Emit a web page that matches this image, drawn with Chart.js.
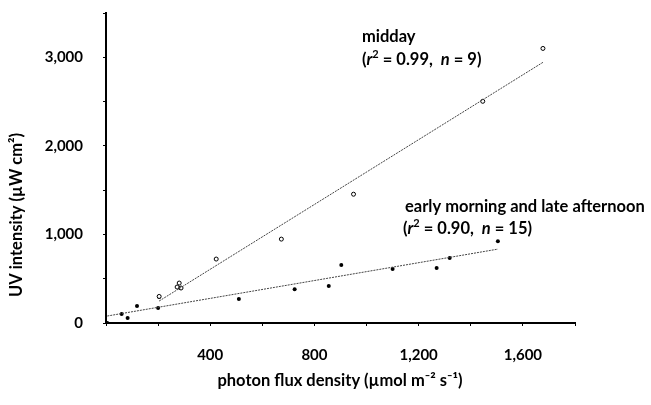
<!DOCTYPE html>
<html lang="en">
<head>
    <meta charset="UTF-8">
    <title>UV intensity vs photon flux density</title>
    <script src="https://cdn.jsdelivr.net/npm/chart.js"></script>
    <style>
        body { margin: 0; background: #fff; }
        #wrap { width: 651px; height: 405px; }
    </style>
</head>
<body>
    <div id="wrap"><canvas id="myChart"></canvas></div>
    <script>
        const ctx = document.getElementById('myChart').getContext('2d');

        // photon flux density (x) and UV intensity (y)
        const middayX = [204, 281, 273, 288, 423, 673, 950, 1446, 1677];
        const middayY = [300, 451, 406, 395, 722, 947, 1454, 2503, 3100];
        const earlyX = [5, 60, 83, 119, 200, 204, 285, 510, 724, 855, 903, 1100, 1269, 1319, 1504];
        const earlyY = [0, 101, 56, 192, 169, 293, 395, 271, 381, 419, 654, 609, 620, 733, 924];

        // fitted regression lines (end points)
        const middayFitX = [204, 1677];
        const middayFitY = [248, 2943];
        const earlyFitX = [5, 1504];
        const earlyFitY = [79, 834];

        const yTickLabels = [0, 1000, 2000, 3000];
        const xTickLabels = [400, 800, 1200, 1600];

        const pts = (xs, ys) => xs.map((x, i) => ({ x: x, y: ys[i] }));
        const FONT = 'Lato, "Open Sans", sans-serif';

        // annotation text with italic r / n and superscript 2
        const labelPlugin = {
            id: 'labelPlugin',
            afterDraw: (chart) => {
                const c = chart.ctx;
                c.save();
                c.fillStyle = '#000';
                c.textBaseline = 'alphabetic';
                const run = (parts, x, y) => {
                    parts.forEach(p => {
                        const size = p.sup ? 11 : 16.5;
                        c.font = (p.it ? 'italic ' : '') + 'bold ' + size + 'px ' + FONT;
                        c.fillText(p.t, x, p.sup ? y - 7 : y);
                        x += c.measureText(p.t).width;
                    });
                };
                run([{ t: 'midday' }], 362, 42);
                run([{ t: '(' }, { t: 'r', it: true }, { t: '2', sup: true }, { t: ' = 0.99,  ' },
                     { t: 'n', it: true }, { t: ' = 9)' }], 362, 65);
                run([{ t: 'early morning and late afternoon' }], 405, 212);
                run([{ t: '(' }, { t: 'r', it: true }, { t: '2', sup: true }, { t: ' = 0.90,  ' },
                     { t: 'n', it: true }, { t: ' = 15)' }], 403, 234);

                // axis titles
                c.font = 'bold 16.5px ' + FONT;
                c.textAlign = 'center';
                c.textBaseline = 'middle';
                c.fillText('photon flux density (\u00b5mol m\u207b\u00b2 s\u207b\u00b9)', 340, 381);
                c.translate(17, 215);
                c.rotate(-Math.PI / 2);
                c.fillText('UV intensity (\u00b5W cm\u00b2)', 0, 0);
                c.restore();
            }
        };

        new Chart(ctx, {
            type: 'scatter',
            data: {
                datasets: [
                    {
                        label: 'midday fit',
                        data: pts(middayFitX, middayFitY),
                        showLine: true,
                        borderColor: '#444',
                        borderWidth: 1,
                        borderDash: [2, 1],
                        pointRadius: 0
                    },
                    {
                        label: 'early fit',
                        data: pts(earlyFitX, earlyFitY),
                        showLine: true,
                        borderColor: '#444',
                        borderWidth: 1,
                        borderDash: [2, 1],
                        pointRadius: 0
                    },
                    {
                        label: 'midday',
                        data: pts(middayX, middayY),
                        pointRadius: 2,
                        pointBackgroundColor: '#fff',
                        pointBorderColor: '#000',
                        pointBorderWidth: 1
                    },
                    {
                        label: 'early morning and late afternoon',
                        data: pts(earlyX, earlyY),
                        pointRadius: 2,
                        pointBackgroundColor: '#000',
                        pointBorderColor: '#000',
                        pointBorderWidth: 0
                    }
                ]
            },
            options: {
                responsive: true,
                maintainAspectRatio: false,
                animation: false,
                layout: { padding: { top: 13, right: 76, left: 0, bottom: 0 } },
                plugins: {
                    legend: { display: false },
                    tooltip: { enabled: false }
                },
                scales: {
                    x: {
                        type: 'linear',
                        min: 0,
                        max: 1800,
                        afterFit: (s) => { s.height = 82; s.paddingLeft = 0; s.paddingRight = 0; },
                        border: { display: true, color: '#000', width: 2 },
                        grid: { drawOnChartArea: false, drawTicks: true, tickLength: 3, color: '#000' },
                        ticks: {
                            stepSize: 200,
                            padding: 20,
                            color: '#000',
                            font: { family: FONT, size: 15, weight: 'bold' },
                            callback: (v) => xTickLabels.includes(v) ? v.toLocaleString('en-US') : ''
                        }
                    },
                    y: {
                        type: 'linear',
                        min: 0,
                        max: 3500,
                        // ticks.padding would otherwise push the plot top down
                        afterFit: (s) => { s.width = 106; s.paddingTop = 0; s.paddingBottom = 0; },
                        border: { display: true, color: '#000', width: 2 },
                        grid: { drawOnChartArea: false, drawTicks: true, tickLength: 3, color: '#000' },
                        ticks: {
                            stepSize: 500,
                            padding: 20,
                            color: '#000',
                            font: { family: FONT, size: 15, weight: 'bold' },
                            callback: (v) => yTickLabels.includes(v) ? v.toLocaleString('en-US') : ''
                        }
                    }
                }
            },
            plugins: [labelPlugin]
        });
    </script>
</body>
</html>
